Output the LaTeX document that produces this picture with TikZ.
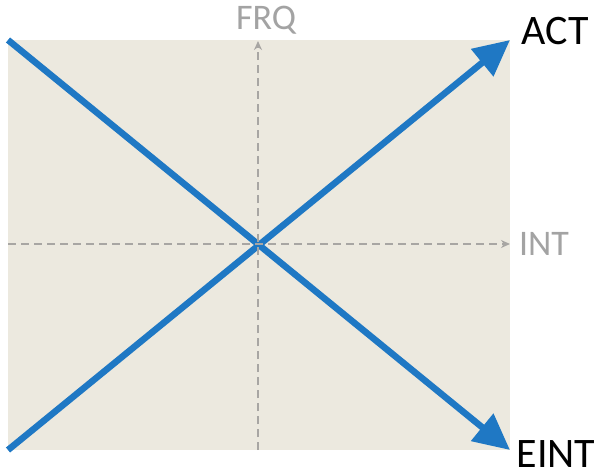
\documentclass[tikz,border=0pt]{standalone}
\usepackage{fontspec}
\setmainfont{Carlito}
\usetikzlibrary{arrows.meta}
\definecolor{bgbeige}{HTML}{ECE9DF}
\definecolor{linblue}{HTML}{1F78C4}
\definecolor{axgray}{HTML}{A8A6A3}
\definecolor{labgray}{HTML}{A3A3A3}
\tikzset{
  bluearrow/.style={draw=linblue, line width=6.5pt, -{Triangle[length=36pt,width=34pt]}, fill=linblue},
  axisline/.style={draw=axgray, line width=2.6pt, dash pattern=on 8pt off 5pt, -{Stealth[length=9pt,width=8pt]}},
  graylab/.style={text=labgray, font=\fontsize{36}{40}\selectfont, inner sep=0pt},
  blacklab/.style={text=black, font=\fontsize{42}{48}\selectfont, inner sep=0pt}
}
\begin{document}
\begin{tikzpicture}[x=1pt,y=-1pt]
\useasboundingbox (0,0) rectangle (600,476);
\fill[bgbeige] (8,40) rectangle (510,450);
\coordinate (tl) at (8,40);
\coordinate (bl) at (8,450);
\coordinate (tr) at (510,40);
\coordinate (br) at (510,450);
\coordinate (vbot) at (258,450);
\coordinate (vtop) at (258,41);
\coordinate (hleft) at (8,244);
\coordinate (hright) at (510,244);
\draw[bluearrow] (bl) -- (tr);
\draw[bluearrow] (tl) -- (br);
\draw[axisline] (vbot) -- (vtop);
\draw[axisline] (hleft) -- (hright);
\node[graylab] (frq) at (266,20) {FRQ};
\node[graylab] (int) at (544,244) {INT};
\node[blacklab] (act) at (555,31) {ACT};
\node[blacklab] (eint) at (556,454) {EINT};
\end{tikzpicture}
\end{document}
